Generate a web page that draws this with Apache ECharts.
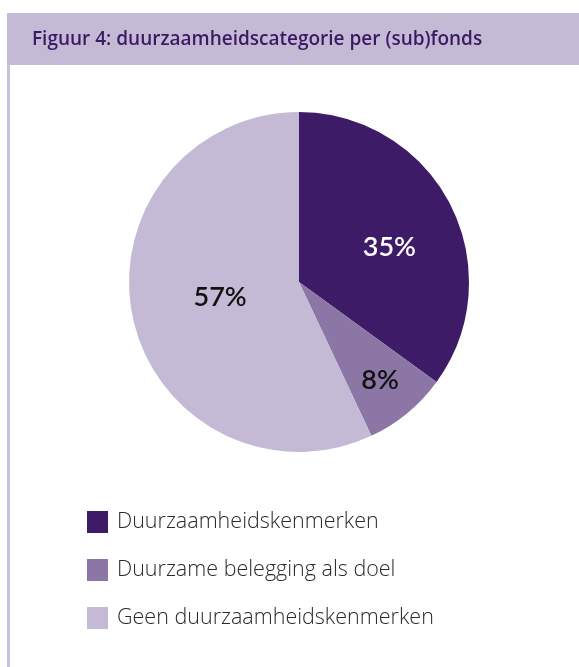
<!DOCTYPE html>
<html>
<head>
<meta charset="utf-8">
<script src="https://cdn.jsdelivr.net/npm/echarts@6/dist/echarts.min.js"></script>
<style>
  html, body { margin: 0; padding: 0; background: #fff; }
  #chart { width: 579px; height: 667px; }
</style>
</head>
<body>
<div id="chart"></div>
<script>
const categories = ['Duurzaamheidskenmerken', 'Duurzame belegging als doel', 'Geen duurzaamheidskenmerken'];
const values = [35, 8, 57];
const sliceColors = ['#3e1b67', '#8c76a5', '#c5bad5'];
const labelColors = ['#ffffff', '#111111', '#111111'];
// nudges for the percentage labels (the source places them unevenly)
const labelNudge = [[12, 5], [25, 30], [7, -4]];

const chart = echarts.init(document.getElementById('chart'));

const option = {
  backgroundColor: '#ffffff',
  animation: false,
  title: {
    text: 'Figuur 4: duurzaamheidscategorie per (sub)fonds',
    left: 27,
    top: 25,
    textStyle: {
      fontFamily: 'Open Sans',
      fontSize: 19,
      fontWeight: 600,
      color: '#3b1a63'
    }
  },
  graphic: [
    { type: 'rect', z: -1, shape: { x: 7, y: 13, width: 572, height: 52 }, style: { fill: '#c5bad5' } },
    { type: 'rect', z: -1, shape: { x: 7, y: 65, width: 3, height: 602 }, style: { fill: '#c8c0dc' } }
  ],
  legend: {
    orient: 'vertical',
    left: 82,
    top: 506,
    icon: 'rect',
    itemWidth: 21,
    itemHeight: 22,
    itemGap: 26,
    selectedMode: false,
    data: categories,
    textStyle: {
      fontFamily: 'Open Sans',
      fontWeight: 300,
      fontSize: 21.5,
      color: '#2a2a2a',
      padding: [0, 0, 0, 4]
    }
  },
  series: [{
    type: 'pie',
    center: [299, 282],
    radius: 170,
    startAngle: 90,
    clockwise: true,
    silent: true,
    label: {
      show: true,
      position: 'inside',
      formatter: '{c}%',
      fontFamily: 'Lato',
      fontSize: 27,
      fontWeight: 600
    },
    labelLayout: function (params) {
      const n = labelNudge[params.dataIndex];
      return { dx: n[0], dy: n[1] };
    },
    labelLine: { show: false },
    data: categories.map((name, i) => ({
      name: name,
      value: values[i],
      itemStyle: { color: sliceColors[i] },
      label: { color: labelColors[i] }
    }))
  }]
};

chart.setOption(option);
</script>
</body>
</html>
